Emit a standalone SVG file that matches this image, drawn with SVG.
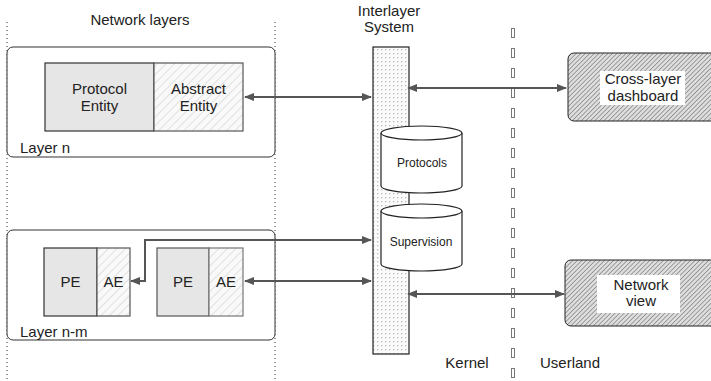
<svg xmlns="http://www.w3.org/2000/svg" width="711" height="381" viewBox="0 0 711 381">
<defs>
<style>
text{font-family:"Liberation Sans",Arial,sans-serif;fill:#222;}
.t15{font-size:15px;}
.t12{font-size:12px;}
.mid{text-anchor:middle;}
.layer{fill:#fff;stroke:#333;stroke-width:1;}
.pe{fill:#e6e6e6;stroke:#333;stroke-width:1.2;}
.ae{fill:url(#hatchLight);stroke:#555;stroke-width:1.2;}
.pe2{fill:#e6e6e6;stroke:#555;stroke-width:1.2;}
.ae2{fill:url(#hatchLight);stroke:#777;stroke-width:1.2;}
.dots{fill:none;stroke:#333;stroke-width:1;stroke-dasharray:1 3;}
.cyl{fill:#fff;stroke:#222;stroke-width:1.2;}
.hatchbox{fill:url(#hatchDark);stroke:#222;stroke-width:1;}
.conn{fill:none;stroke:#555;stroke-width:2;marker-start:url(#ahS);marker-end:url(#ahE);}
</style>
<pattern id="hatchLight" patternUnits="userSpaceOnUse" width="6" height="6" patternTransform="rotate(45)">
<rect width="6" height="6" fill="#f9f9f9"/>
<line x1="0" y1="0" x2="0" y2="6" stroke="#cfcfcf" stroke-width="1.2"/>
</pattern>
<pattern id="hatchDark" patternUnits="userSpaceOnUse" width="3.2" height="3.2" patternTransform="rotate(45)">
<rect width="3.2" height="3.2" fill="#dedede"/>
<line x1="0" y1="0" x2="0" y2="3.2" stroke="#808080" stroke-width="1.4"/>
</pattern>
<pattern id="dotPat" patternUnits="userSpaceOnUse" width="4" height="4">
<rect width="4" height="4" fill="#fbfbfb"/>
<rect x="1" y="1" width="1.3" height="1.3" fill="#b8b8b8"/>
</pattern>
<marker id="ahE" markerUnits="userSpaceOnUse" markerWidth="10" markerHeight="8" refX="9" refY="4" orient="auto">
<path d="M0,0 L10,4 L0,8 z" fill="#555"/>
</marker>
<marker id="ahS" markerUnits="userSpaceOnUse" markerWidth="10" markerHeight="8" refX="1" refY="4" orient="auto">
<path d="M10,0 L0,4 L10,8 z" fill="#555"/>
</marker>
</defs>
<rect width="711" height="381" fill="#fff"/>

<g id="boundaries">
<line class="dots" x1="7" y1="22" x2="7" y2="381"/>
<line class="dots" x1="275" y1="22" x2="275" y2="381"/>
<line x1="513" y1="28" x2="513" y2="381" stroke="#777" stroke-width="4" stroke-dasharray="10 10"/>
<line x1="513" y1="29" x2="513" y2="381" stroke="#fff" stroke-width="2" stroke-dasharray="8 12"/>
</g>

<g id="titles">
<text class="t15 mid" x="140" y="25">Network layers</text>
<text class="t15 mid" x="389" y="16">Interlayer</text>
<text class="t15 mid" x="389" y="32">System</text>
<text class="t15 mid" x="467" y="368">Kernel</text>
<text class="t15 mid" x="570" y="368">Userland</text>
</g>

<g id="layer-n">
<rect class="layer" x="7" y="47" width="268" height="110" rx="6"/>
<text class="t15" x="20" y="153">Layer n</text>
</g>
<g id="protocol-entity">
<rect class="pe" x="45" y="63" width="109" height="68"/>
<text class="t15 mid" x="99.5" y="94">Protocol</text>
<text class="t15 mid" x="99.5" y="111">Entity</text>
</g>
<g id="abstract-entity">
<rect class="ae" x="154" y="63" width="89" height="68"/>
<text class="t15 mid" x="198.5" y="94">Abstract</text>
<text class="t15 mid" x="198.5" y="111">Entity</text>
</g>

<g id="layer-n-m">
<rect class="layer" x="7" y="230" width="268" height="110" rx="6"/>
<text class="t15" x="20" y="337">Layer n-m</text>
</g>
<g id="pe-1">
<rect class="pe" x="44" y="248" width="53" height="68"/>
<text class="t15 mid" x="70.5" y="287">PE</text>
</g>
<g id="ae-1">
<rect class="ae" x="97" y="248" width="33" height="68"/>
<text class="t15 mid" x="113.5" y="287">AE</text>
</g>
<g id="pe-2">
<rect class="pe2" x="157" y="248" width="52" height="68"/>
<text class="t15 mid" x="183" y="287">PE</text>
</g>
<g id="ae-2">
<rect class="ae2" x="209" y="248" width="34" height="68"/>
<text class="t15 mid" x="226" y="287">AE</text>
</g>

<g id="interlayer-system">
<rect x="373" y="47" width="36" height="307" fill="url(#dotPat)" stroke="#222" stroke-width="1.2"/>
</g>

<g id="protocols">
<path class="cyl" d="M381,133 L381,186 A40.5,7 0 0 0 462,186 L462,133 A40.5,7 0 0 0 381,133 z"/>
<path class="cyl" d="M381,133 A40.5,7 0 0 0 462,133"/>
<text class="t12 mid" x="422" y="167">Protocols</text>
</g>

<g id="supervision">
<path class="cyl" d="M381,211 L381,264 A40.5,7 0 0 0 462,264 L462,211 A40.5,7 0 0 0 381,211 z"/>
<path class="cyl" d="M381,211 A40.5,7 0 0 0 462,211"/>
<text class="t12 mid" x="421" y="246">Supervision</text>
</g>

<g id="cross-layer-dashboard">
<rect class="hatchbox" x="568" y="53" width="160" height="68" rx="6"/>
<rect x="600" y="71" width="85" height="34" fill="#fff"/>
<text class="t15 mid" x="643" y="84">Cross-layer</text>
<text class="t15 mid" x="643" y="101">dashboard</text>
</g>

<g id="network-view">
<rect class="hatchbox" x="565" y="260" width="160" height="66" rx="6"/>
<rect x="597" y="275" width="83" height="38" fill="#fff"/>
<text class="t15 mid" x="641" y="290">Network</text>
<text class="t15 mid" x="641" y="306">view</text>
</g>

<g id="connectors">
<path class="conn" d="M245,97 L371,97"/>
<path class="conn" d="M408,88 L566,88"/>
<path class="conn" d="M371,240 L145,240 L145,281 L131,281"/>
<path class="conn" d="M245,281 L371,281"/>
<path class="conn" d="M408,294 L564,294"/>
</g>
</svg>
